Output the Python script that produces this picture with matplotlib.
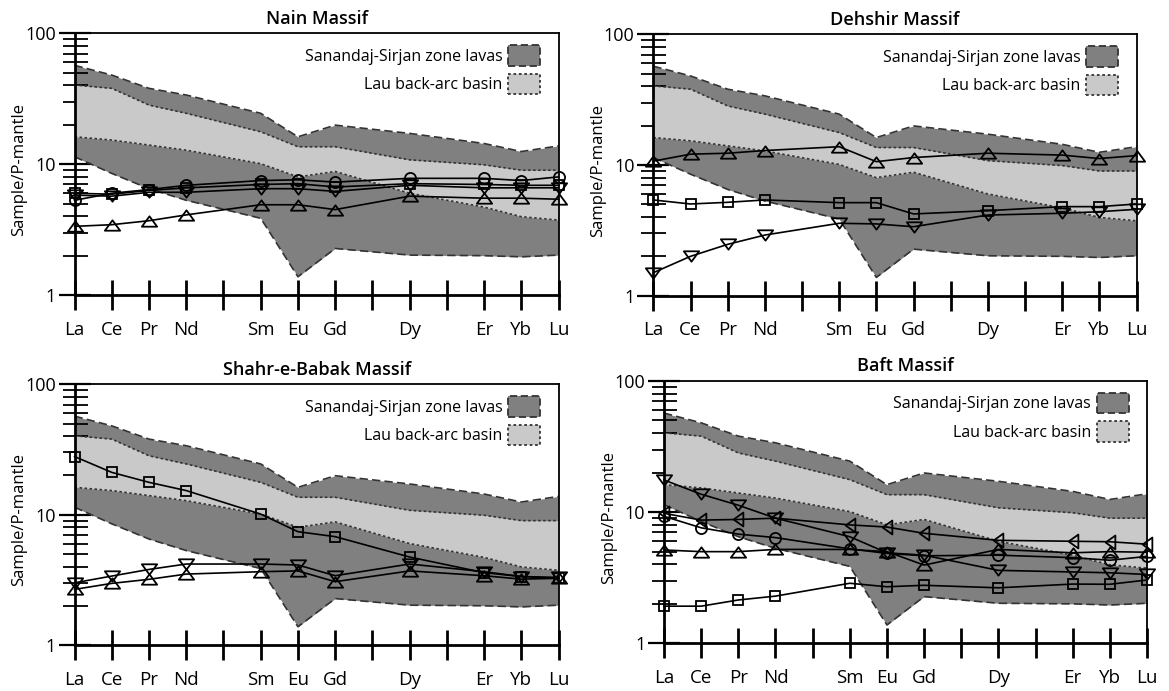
import matplotlib
matplotlib.use('Agg')
import matplotlib.pyplot as plt
from matplotlib.patches import Patch
from matplotlib.path import Path
from matplotlib.ticker import NullFormatter

plt.rcParams['font.family'] = ['Open Sans', 'DejaVu Sans']

# Eixo dos ETR (com lacunas para Pm, Tb, Ho)
tick_slots = ['La', 'Ce', 'Pr', 'Nd', '', 'Sm', 'Eu', 'Gd', '', 'Dy', '', 'Er', 'Yb', 'Lu']
elements = ['La', 'Ce', 'Pr', 'Nd', 'Sm', 'Eu', 'Gd', 'Dy', 'Er', 'Yb', 'Lu']

# Campos de referencia
ssz_upper = [57, 48, 38, 33.8, 24.5, 16.2, 19.9, 17.2, 14.4, 12.5, 13.8]
ssz_lower = [11.4, 8.5, 6.5, 5.3, 3.86, 1.38, 2.27, 2.02, 2.0, 1.96, 2.02]
lau_upper = [40.3, 38, 28.3, 24.5, 17.7, 13.6, 13.6, 10.8, 9.9, 9.0, 9.0]
lau_lower = [16.2, 15.3, 14, 12.8, 10.1, 8.0, 8.8, 6.0, 4.7, 3.97, 3.74]

# Nain
nain_circle = [5.3, 6.0, 6.4, 6.9, 7.5, 7.6, 7.3, 7.8, 7.8, 7.5, 8.0]
nain_square = [6.0, 5.9, 6.3, 6.6, 7.0, 7.1, 6.7, 7.1, 7.0, 6.9, 6.9]
nain_down = [5.8, 5.7, 6.1, 6.1, 6.5, 6.5, 6.2, 6.9, 6.6, 6.6, 6.6]
nain_up = [3.35, 3.45, 3.7, 4.1, 4.9, 4.9, 4.5, 5.7, 5.5, 5.5, 5.4]

# Dehshir
deh_up = [10.7, 12.1, 12.3, 12.9, 13.8, 10.6, 11.4, 12.3, 11.9, 11.2, 11.8]
deh_square = [5.4, 5.03, 5.18, 5.4, 5.15, 5.15, 4.22, 4.47, 4.8, 4.8, 5.03]
deh_down = [1.5, 2.0, 2.47, 2.91, 3.58, 3.54, 3.37, 4.14, 4.27, 4.39, 4.58]

# Shahr-e-Babak
shb_square = [27.9, 21.1, 17.7, 15.3, 10.1, 7.4, 6.78, 4.73, 3.59, 3.35, 3.25]
shb_down = [3.0, 3.38, 3.8, 4.18, 4.18, 4.11, 3.4, 4.18, 3.65, 3.35, 3.3]
shb_up = [2.67, 2.97, 3.19, 3.5, 3.65, 3.7, 3.06, 3.7, 3.4, 3.2, 3.25]

# Baft
baft_down = [17.6, 13.7, 11.3, 9.0, 6.5, 4.9, 4.7, 3.6, 3.5, 3.45, 3.35]
baft_left = [9.8, 8.7, 8.8, 9.0, 8.0, 7.7, 6.9, 6.1, 6.0, 5.95, 5.7]
baft_circle = [9.3, 7.6, 6.8, 6.4, 5.25, 4.85, 4.65, 4.7, 4.5, 4.3, 4.6]
baft_up = [5.15, 5.0, 5.0, 5.2, 5.2, 5.0, 3.95, 5.2, 4.9, 5.0, 4.95]
baft_square = [1.92, 1.92, 2.14, 2.29, 2.87, 2.7, 2.77, 2.65, 2.83, 2.82, 3.04]

x = [tick_slots.index(e) for e in elements]

dark = '#808080'
light = '#c9c9c9'
edge = '#333333'

# Marcadores triangulares achatados
tri_up = Path([(-1, -0.68), (1, -0.68), (0, 0.68), (-1, -0.68)], closed=True)
tri_down = Path([(-1, 0.68), (1, 0.68), (0, -0.68), (-1, 0.68)], closed=True)
tri_left = Path([(0.7, -1), (0.7, 1), (-0.7, 0), (0.7, -1)], closed=True)

marks = {
    'circle': ('o', 8),
    'square': ('s', 7.5),
    'up': (tri_up, 11),
    'down': (tri_down, 11),
    'left': (tri_left, 10),
}

panels = [
    ('Nain Massif', [0.0638, 0.573, 0.414, 0.3787],
     [(nain_up, 'up'), (nain_down, 'down'), (nain_square, 'square'), (nain_circle, 'circle')]),
    ('Dehshir Massif', [0.5589, 0.5721, 0.4133, 0.3783],
     [(deh_up, 'up'), (deh_square, 'square'), (deh_down, 'down')]),
    ('Shahr-e-Babak Massif', [0.0638, 0.0666, 0.414, 0.3772],
     [(shb_square, 'square'), (shb_down, 'down'), (shb_up, 'up')]),
    ('Baft Massif', [0.568, 0.069, 0.4132, 0.3796],
     [(baft_down, 'down'), (baft_left, 'left'), (baft_circle, 'circle'),
      (baft_up, 'up'), (baft_square, 'square')]),
]

fig = plt.figure(figsize=(11.69, 6.91), dpi=100)

for title, rect, series in panels:
    ax = fig.add_axes(rect)

    # campo Sanandaj-Sirjan
    ax.fill_between(x, ssz_lower, ssz_upper, color=dark, lw=0, zorder=1)
    ax.plot(x, ssz_upper, color=edge, lw=1.2, ls=(0, (5, 2.5)), zorder=2)
    ax.plot(x, ssz_lower, color=edge, lw=1.2, ls=(0, (5, 2.5)), zorder=2)
    # campo Lau
    ax.fill_between(x, lau_lower, lau_upper, color=light, lw=0, zorder=3)
    ax.plot(x, lau_upper, color=edge, lw=1.2, ls=(0, (1.5, 1.5)), zorder=4)
    ax.plot(x, lau_lower, color=edge, lw=1.2, ls=(0, (1.5, 1.5)), zorder=4)

    for vals, kind in series:
        m, ms = marks[kind]
        ax.plot(x, vals, color='black', lw=1.2, marker=m, ms=ms, mfc='none',
                mec='black', mew=1.3, clip_on=False, zorder=6)

    ax.set_yscale('log')
    ax.set_ylim(1, 100)
    ax.set_xlim(0, 13)
    ax.set_xticks(range(len(tick_slots)))
    ax.set_xticklabels(tick_slots)
    ax.set_yticks([1, 10, 100])
    ax.set_yticklabels(['1', '10', '100'])
    ax.yaxis.set_minor_formatter(NullFormatter())

    ax.tick_params(axis='x', direction='inout', length=21, width=2, pad=8, labelsize=13.5)
    ax.tick_params(axis='y', which='major', direction='inout', length=23, width=1.6, pad=2, labelsize=13)
    ax.tick_params(axis='y', which='minor', direction='inout', length=18, width=1.3)

    ax.spines['left'].set_linewidth(2)
    ax.spines['bottom'].set_linewidth(2)
    ax.spines['top'].set_linewidth(1.3)
    ax.spines['right'].set_linewidth(1.3)
    for s in ax.spines.values():
        s.set_zorder(7)

    ax.set_title(title, fontsize=13, fontweight='semibold', pad=7)
    ax.set_ylabel('Sample/P-mantle', fontsize=12)
    ax.yaxis.set_label_coords(-0.098, 0.48)

    handles = [
        Patch(facecolor=dark, edgecolor=edge, linestyle=(0, (4, 2)), linewidth=1.3,
              label='Sanandaj-Sirjan zone lavas'),
        Patch(facecolor=light, edgecolor=edge, linestyle=(0, (1.5, 1.5)), linewidth=1.3,
              label='Lau back-arc basin'),
    ]
    leg = ax.legend(handles=handles, loc='upper right', bbox_to_anchor=(0.962, 0.955),
                    frameon=False, markerfirst=False, fontsize=11.5, handlelength=2.0,
                    handleheight=1.6, handletextpad=0.35, labelspacing=0.5,
                    borderpad=0, borderaxespad=0)
    leg.set_zorder(8)

fig.savefig('out.png', dpi=100)
